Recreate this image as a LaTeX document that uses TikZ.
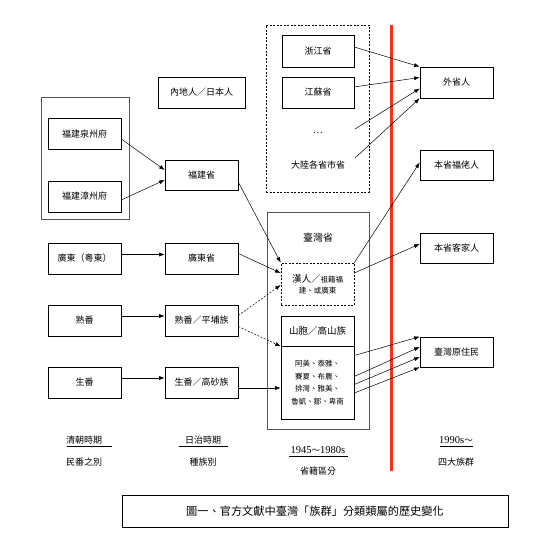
\documentclass[tikz,border=0pt]{standalone}
\usepackage{fontspec}
\setmainfont{Liberation Serif}
\newfontfamily\cjk{Noto Sans CJK TC}
\usetikzlibrary{arrows.meta,calc}
\definecolor{redline}{HTML}{F5331A}
\definecolor{edgegray}{HTML}{555555}
\tikzset{
  x=1pt, y=-1pt,
  box/.style={draw=black, line width=0.6pt, minimum width=73pt, minimum height=31pt, inner sep=0pt, font=\cjk\fontsize{9}{10}\selectfont},
  outerbox/.style={draw=edgegray, line width=0.8pt, inner sep=0pt},
  dbox/.style={draw=black, line width=0.6pt, dashed, dash pattern=on 2pt off 1.5pt, inner sep=0pt},
  lbl/.style={font=\cjk\fontsize{9}{10}\selectfont, inner sep=0pt},
  conn/.style={line width=0.5pt, -{Latex[length=5.5pt,width=4pt]}},
  dconn/.style={conn, dash pattern=on 2pt off 1.5pt},
  uline/.style={line width=0.6pt}
}
\begin{document}
\begin{tikzpicture}
\useasboundingbox (0,0) rectangle (553,553);
% outer groups
\node[outerbox, minimum width=88pt, minimum height=122pt] (fjout) at (85,158) {};
\node[dbox, minimum width=103pt, minimum height=167pt] (mainland) at (317.5,108.5) {};
\node[outerbox, minimum width=102pt, minimum height=217pt] (twout) at (318,320.5) {};
% column 1
\node[box] (qz) at (84.5,134) {福建泉州府};
\node[box] (zz) at (84.5,196.5) {福建漳州府};
\node[box] (gd) at (84.5,258.5) {廣東（粵東）};
\node[box] (sf) at (84.5,320.5) {熟番};
\node[box] (shf) at (84.5,382.5) {生番};
% column 2
\node[box, minimum width=87pt] (neidi) at (201.5,92.5) {內地人／日本人};
\node[box, minimum height=30pt] (fjs) at (201.5,175) {福建省};
\node[box] (gds) at (201.5,258.5) {廣東省};
\node[box] (sfp) at (201.5,320.5) {熟番／平埔族};
\node[box] (shfg) at (201.5,382.5) {生番／高砂族};
% column 3
\node[box, minimum width=72pt, minimum height=32pt] (zj) at (318,51) {浙江省};
\node[box, minimum width=72pt] (js) at (318,92.5) {江蘇省};
\node[lbl] (dots) at (318,133) {…};
\node[lbl] (dalu) at (318,165) {大陸各省市省};
\coordinate (d1) at (355,129);
\coordinate (d2) at (355,158);
\node[lbl, font=\cjk\fontsize{10}{11}\selectfont] (tw) at (318,238) {臺灣省};
\node[dbox, minimum width=73pt, minimum height=42pt, align=center, font=\cjk] (han) at (317.5,284)
  {{\fontsize{9.5}{10}\selectfont 漢人／}{\fontsize{7.5}{10}\selectfont 祖籍福}\\[-1pt]{\fontsize{7.5}{10}\selectfont 建、或廣東}};
\node[box, minimum height=30pt, font=\cjk\fontsize{9.5}{10}\selectfont] (shanbao) at (317.5,331) {山胞／高山族};
\node[box, minimum height=73pt, align=center, font=\cjk\fontsize{7.5}{12.5}\selectfont] (amei) at (317.5,382.5)
  {阿美、泰雅、\\賽夏、布農、\\排灣、雅美、\\魯凱、鄒、卑南};
% column 4
\node[box] (wsr) at (456.5,82.5) {外省人};
\node[box, minimum height=30pt] (fl) at (456.5,165.5) {本省福佬人};
\node[box, minimum height=30pt] (hk) at (456.5,248) {本省客家人};
\node[box, minimum height=30pt] (yzm) at (456.5,352) {臺灣原住民};
% red divider
\draw[redline, line width=3pt] (391,25) -- (391,471);
% connectors
\draw[conn] ($(qz.east)+(0,5)$) -- ($(fjs.west)+(0,-5)$);
\draw[conn] ($(zz.east)+(0,3.5)$) -- ($(fjs.west)+(0,5)$);
\draw[conn] ($(gd.east)+(0,-4)$) -- ($(gds.west)+(0,-4)$);
\draw[conn] ($(sf.east)+(0,-4.5)$) -- ($(sfp.west)+(0,-4.5)$);
\draw[conn] ($(shf.east)+(0,-4.5)$) -- ($(shfg.west)+(0,-4.5)$);
\draw[conn] ($(fjs.east)+(0,7)$) -- (han.north west);
\draw[conn] ($(gds.east)+(0,-5)$) -- ($(han.west)+(0,-11)$);
\draw[dconn] ($(sfp.east)+(0,-5)$) -- ($(han.west)+(0,1)$);
\draw[dconn] ($(sfp.east)+(0,6)$) -- (shanbao.south west);
\draw[conn] ($(shfg.east)+(0,5.5)$) -- ($(amei.west)+(0,5.5)$);
\draw[conn] ($(zj.east)+(0,-4)$) -- (wsr.north west);
\draw[conn] ($(js.east)+(0,-5.5)$) -- ($(wsr.west)+(0,-5)$);
\draw[conn] (d1) -- ($(wsr.west)+(0,6)$);
\draw[conn] (d2) -- (wsr.south west);
\draw[conn] (han.north east) -- ($(fl.west)+(0,-3)$);
\draw[conn] ($(han.east)+(0,-11)$) -- ($(hk.west)+(0,-4)$);
\draw[conn] ($(amei.east)+(0,-27)$) -- (yzm.north west);
\draw[conn] ($(amei.east)+(0,-6)$) -- ($(yzm.west)+(0,-5)$);
\draw[conn] ($(amei.east)+(0,2)$) -- ($(yzm.west)+(0,5)$);
\draw[conn] ($(amei.east)+(0,10.5)$) -- (yzm.south west);
% period labels
\node[lbl] (p1) at (84,440) {清朝時期};
\node[lbl] (p1b) at (84,462) {民番之別};
\draw[uline] (67,446.5) -- (112,446.5);
\node[lbl] (p2) at (203,440) {日治時期};
\node[lbl] (p2b) at (203,462) {種族別};
\draw[uline] (179,446.5) -- (228,446.5);
\node[lbl, font=\fontsize{10.5}{12}\selectfont] (p3) at (318,450) {1945{\cjk\fontsize{8.5}{10}\selectfont ～}1980s};
\node[lbl] (p3b) at (318,471) {省籍區分};
\draw[uline] (289,456.5) -- (348,456.5);
\node[lbl, font=\fontsize{10.5}{12}\selectfont] (p4) at (456,440) {1990s{\cjk\fontsize{8.5}{10}\selectfont ～}};
\node[lbl] (p4b) at (456,462) {四大族群};
\draw[uline] (440,446.5) -- (473,446.5);
% caption
\node[draw=black, line width=0.8pt, minimum width=386pt, minimum height=32pt, inner sep=0pt, font=\cjk\fontsize{11.2}{12}\selectfont] (cap) at (315,511) {圖一、官方文獻中臺灣「族群」分類類屬的歷史變化};
\end{tikzpicture}
\end{document}
